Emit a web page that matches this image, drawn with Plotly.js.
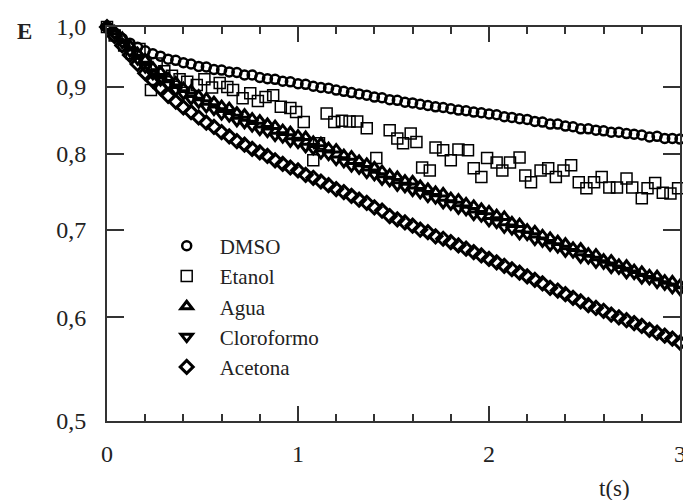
<!DOCTYPE html>
<html>
<head>
<meta charset="utf-8">
<script src="https://cdn.plot.ly/plotly-3.0.1.min.js"></script>
<style>html,body{margin:0;padding:0;background:#fff;}#chart{width:683px;height:500px;}</style>
</head>
<body>
<div id="chart"></div>
<script>
// time axis (s)
var t = [0,0.04,0.08,0.12,0.16,0.2,0.24,0.28,0.32,0.36,0.4,0.44,0.48,0.52,0.56,0.6,0.64,0.68,0.72,0.76,0.8,0.84,0.88,0.92,0.96,1,1.04,1.08,1.12,1.16,1.2,1.24,1.28,1.32,1.36,1.4,1.44,1.48,1.52,1.56,1.6,1.64,1.68,1.72,1.76,1.8,1.84,1.88,1.92,1.96,2,2.04,2.08,2.12,2.16,2.2,2.24,2.28,2.32,2.36,2.4,2.44,2.48,2.52,2.56,2.6,2.64,2.68,2.72,2.76,2.8,2.84,2.88,2.92,2.96,3];

var dmso = [1.000,0.990,0.980,0.972,0.965,0.959,0.954,0.950,0.945,0.943,0.939,0.937,0.933,0.932,0.928,0.927,0.924,0.923,0.919,0.919,0.915,0.913,0.912,0.909,0.908,0.905,0.904,0.901,0.899,0.898,0.895,0.893,0.891,0.889,0.887,0.884,0.883,0.880,0.879,0.876,0.875,0.873,0.871,0.869,0.868,0.866,0.864,0.863,0.861,0.860,0.858,0.857,0.854,0.853,0.851,0.850,0.847,0.846,0.843,0.843,0.840,0.839,0.836,0.836,0.834,0.833,0.831,0.831,0.829,0.828,0.827,0.824,0.825,0.822,0.822,0.821];

var agua = [1.000,0.992,0.981,0.968,0.955,0.944,0.931,0.924,0.914,0.907,0.898,0.894,0.886,0.882,0.876,0.870,0.867,0.860,0.857,0.851,0.848,0.843,0.840,0.834,0.831,0.826,0.824,0.817,0.815,0.808,0.806,0.798,0.796,0.790,0.786,0.781,0.776,0.771,0.768,0.763,0.762,0.756,0.752,0.748,0.746,0.740,0.738,0.733,0.730,0.726,0.723,0.718,0.716,0.709,0.707,0.700,0.698,0.693,0.690,0.686,0.683,0.678,0.677,0.671,0.670,0.664,0.663,0.658,0.657,0.652,0.650,0.646,0.645,0.640,0.639,0.635];

var cloroformo = [1.000,0.988,0.973,0.958,0.945,0.932,0.921,0.911,0.904,0.895,0.889,0.881,0.876,0.869,0.865,0.858,0.855,0.848,0.845,0.840,0.835,0.832,0.826,0.824,0.818,0.816,0.810,0.807,0.801,0.799,0.792,0.789,0.783,0.780,0.774,0.771,0.765,0.763,0.757,0.755,0.750,0.747,0.742,0.740,0.734,0.732,0.727,0.725,0.719,0.717,0.711,0.709,0.703,0.701,0.695,0.694,0.688,0.686,0.681,0.679,0.674,0.673,0.667,0.666,0.661,0.660,0.655,0.654,0.649,0.648,0.643,0.642,0.638,0.636,0.632,0.630];

var acetona = [1.000,0.984,0.968,0.952,0.937,0.922,0.910,0.898,0.886,0.877,0.868,0.861,0.853,0.845,0.839,0.831,0.825,0.818,0.813,0.807,0.802,0.797,0.791,0.786,0.781,0.777,0.771,0.767,0.762,0.757,0.752,0.748,0.743,0.738,0.734,0.728,0.724,0.717,0.713,0.709,0.705,0.700,0.697,0.692,0.689,0.685,0.681,0.677,0.673,0.669,0.665,0.661,0.657,0.653,0.649,0.645,0.641,0.637,0.632,0.629,0.625,0.621,0.617,0.613,0.610,0.607,0.603,0.600,0.597,0.594,0.591,0.587,0.584,0.581,0.578,0.574];

// Etanol is sampled irregularly
var etanolT = [0,0.04,0.09,0.13,0.17,0.23,0.26,0.30,0.34,0.38,0.42,0.47,0.51,0.55,0.59,0.63,0.66,0.71,0.75,0.79,0.83,0.87,0.91,0.96,0.99,1.03,1.08,1.11,1.15,1.19,1.23,1.27,1.31,1.36,1.41,1.48,1.52,1.55,1.59,1.62,1.65,1.69,1.72,1.76,1.80,1.84,1.89,1.92,1.96,1.99,2.04,2.07,2.11,2.16,2.19,2.22,2.27,2.31,2.35,2.39,2.43,2.47,2.51,2.55,2.59,2.63,2.67,2.72,2.75,2.80,2.83,2.87,2.91,2.95,2.99];
var etanolE = [1.000,0.985,0.968,0.955,0.962,0.895,0.938,0.925,0.918,0.912,0.908,0.903,0.912,0.899,0.906,0.900,0.895,0.882,0.890,0.878,0.884,0.887,0.869,0.867,0.861,0.846,0.791,0.815,0.859,0.846,0.848,0.847,0.847,0.837,0.794,0.834,0.822,0.815,0.829,0.817,0.781,0.777,0.809,0.805,0.791,0.806,0.805,0.780,0.768,0.794,0.788,0.777,0.788,0.795,0.770,0.761,0.777,0.780,0.768,0.777,0.784,0.761,0.753,0.761,0.768,0.754,0.754,0.766,0.754,0.740,0.753,0.760,0.747,0.746,0.753];

var yTickVals = [0.5,0.6,0.7,0.8,0.9,1.0];
var yTickText = ['0,5','0,6','0,7','0,8','0,9','1,0'];
var xTickVals = [0,1,2,3];
var xTickText = ['0','1','2','3'];

var names = ['DMSO','Etanol','Agua','Cloroformo','Acetona'];

function tr(x, y, name, symbol, size, lw) {
  return {x: x, y: y, name: name, type: 'scatter', mode: 'markers', cliponaxis: false,
    marker: {symbol: symbol, size: size, color: '#000', line: {color: '#000', width: lw}}};
}

var data = [
  tr(t, dmso, names[0], 'circle-open', 9, 2.5),
  tr(etanolT, etanolE, names[1], 'square-open', 11, 1.5),
  tr(t, agua, names[2], 'triangle-up-open', 10, 3),
  tr(t, cloroformo, names[3], 'triangle-down-open', 10, 3),
  tr(t, acetona, names[4], 'diamond-open', 10, 3)
];

var SERIF = 'Liberation Serif';
var axisFont = {family: SERIF, size: 24, color: '#222'};
var TC = '#333';
var yRange = [Math.log10(0.5), 0];

var layout = {
  width: 683, height: 500,
  margin: {l: 107, r: 3, t: 27, b: 79, pad: 0},
  paper_bgcolor: '#fff', plot_bgcolor: '#fff',
  showlegend: true,
  legend: {x: 0.0815, y: 0.496, xanchor: 'left', yanchor: 'top', bgcolor: 'rgba(0,0,0,0)',
    itemwidth: 56, tracegroupgap: 0, itemsizing: 'trace',
    font: {family: SERIF, size: 21, color: '#222'}},
  xaxis: {range: [0, 3], showgrid: false, zeroline: false, showline: true, linecolor: TC, linewidth: 2,
    mirror: 'ticks', ticks: 'inside', ticklen: 15, tickwidth: 2, tickcolor: TC,
    tickmode: 'array', tickvals: xTickVals, ticktext: xTickText, tickfont: axisFont, ticklabelstandoff: 10,
    ticklabeloverflow: 'allow',
    minor: {dtick: 0.2, ticks: 'inside', ticklen: 7, tickwidth: 2, tickcolor: TC, showgrid: false}},
  yaxis: {type: 'log', range: yRange, showgrid: false, zeroline: false, showline: true,
    linecolor: TC, linewidth: 2, mirror: 'ticks', ticks: 'inside', ticklen: 17, tickwidth: 2, tickcolor: TC,
    tickmode: 'array', tickvals: yTickVals, ticktext: yTickText, tickfont: axisFont, ticklabelstandoff: 14,
    ticklabeloverflow: 'allow'},
  annotations: [
    {text: '<b>E</b>', xref: 'paper', yref: 'paper', x: (24 - 107) / 573, y: 1 - (31 - 27) / 394, xanchor: 'center', yanchor: 'middle',
      showarrow: false, font: {family: SERIF, size: 23, color: '#222'}},
    {text: 't(s)', xref: 'paper', yref: 'paper', x: (614 - 107) / 573, y: -(488 - 421) / 394, xanchor: 'center', yanchor: 'middle',
      showarrow: false, font: {family: SERIF, size: 23, color: '#222'}}
  ]
};

Plotly.newPlot('chart', data, layout, {staticPlot: true, displayModeBar: false});
</script>
</body>
</html>
